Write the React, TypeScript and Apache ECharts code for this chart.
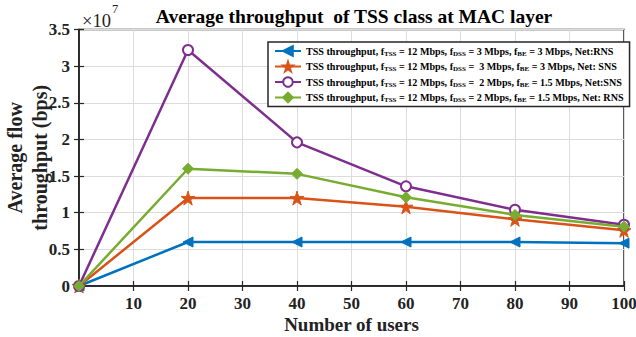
import React, { useEffect, useRef } from "react";
import * as echarts from "echarts";

const users = [0, 20, 40, 60, 80, 100];
const seriesRNS3 = [0, 0.6e7, 0.6e7, 0.6e7, 0.6e7, 0.585e7];
const seriesSNS3 = [0, 1.2e7, 1.2e7, 1.08e7, 0.91e7, 0.76e7];
const seriesSNS2 = [0, 3.22e7, 1.96e7, 1.36e7, 1.04e7, 0.835e7];
const seriesRNS2 = [0, 1.6e7, 1.53e7, 1.21e7, 0.97e7, 0.81e7];

const seriesNames = [
  "TSS throughput, fTSS = 12 Mbps, fDSS = 3 Mbps, fBE = 3 Mbps, Net:RNS",
  "TSS throughput, fTSS = 12 Mbps, fDSS =  3 Mbps, fBE = 3 Mbps, Net: SNS",
  "TSS throughput, fTSS = 12 Mbps, fDSS =  2 Mbps, fBE = 1.5 Mbps, Net:SNS",
  "TSS throughput, fTSS = 12 Mbps, fDSS = 2 Mbps, fBE = 1.5 Mbps, Net: RNS",
];
const legendRich = [
  "{n|TSS throughput, f}{s|TSS}{n| = 12 Mbps, f}{s|DSS}{n| = 3 Mbps, f}{s|BE}{n| = 3 Mbps, Net:RNS}",
  "{n|TSS throughput, f}{s|TSS}{n| = 12 Mbps, f}{s|DSS}{n| =  3 Mbps, f}{s|BE}{n| = 3 Mbps, Net: SNS}",
  "{n|TSS throughput, f}{s|TSS}{n| = 12 Mbps, f}{s|DSS}{n| =  2 Mbps, f}{s|BE}{n| = 1.5 Mbps, Net:SNS}",
  "{n|TSS throughput, f}{s|TSS}{n| = 12 Mbps, f}{s|DSS}{n| = 2 Mbps, f}{s|BE}{n| = 1.5 Mbps, Net: RNS}",
];
const colors = ["#0072BD", "#D95319", "#7E2F8E", "#77AC30"];
const xTicks = [10, 20, 30, 40, 50, 60, 70, 80, 90, 100];

const STAR = "path://M50,0 L61,35 L98,35 L68,57 L79,91 L50,70 L21,91 L32,57 L2,35 L39,35 Z";
const FONT = "'Liberation Serif', 'Times New Roman', serif";

export default function App() {
  const ref = useRef<HTMLDivElement>(null);
  useEffect(() => {
    const chart = echarts.init(ref.current!, null, { renderer: "svg" });
    const datasets = [seriesRNS3, seriesSNS3, seriesSNS2, seriesRNS2];
    const symbols = ["triangle", STAR, "emptyCircle", "diamond"];
    const sizes = [10, 14, 10, 11];
    const rotates = [90, 0, 0, 0];
    const series: any[] = datasets.map((d, i) => ({
      type: "line",
      name: seriesNames[i],
      data: users.map((u, k) => [u, d[k]]),
      symbol: symbols[i],
      symbolSize: sizes[i],
      symbolRotate: rotates[i],
      showAllSymbol: true,
      lineStyle: { color: colors[i], width: 2.5 },
      itemStyle: { color: colors[i], borderColor: colors[i], borderWidth: i === 2 ? 2 : 1 },
      z: 3 + i,
    }));
    const axisLine = { show: true, lineStyle: { color: "#262626", width: 1.5 } };
    const tick = { show: true, inside: true, length: 5, lineStyle: { color: "#262626", width: 1.2 } };
    chart.setOption({
      animation: false,
      title: {
        text: "Average throughput  of TSS class at MAC layer",
        left: 349,
        textAlign: "center",
        top: 1,
        textStyle: { fontFamily: FONT, fontWeight: "bold", fontSize: 19.5, color: "#000" },
      },
      grid: {
        left: 79,
        right: 12,
        top: 29.5,
        bottom: 51,
        show: true,
        borderColor: "#262626",
        borderWidth: 1.5,
        containLabel: false,
        outerBoundsMode: "none",
      },
      legend: {
        orient: "vertical",
        left: 268,
        top: 42,
        backgroundColor: "#fff",
        borderColor: "#262626",
        borderWidth: 1.5,
        padding: [3, 6, 3, 6],
        itemGap: 3.5,
        itemWidth: 26,
        itemHeight: 12,
        data: seriesNames,
        formatter: (name: string) => legendRich[seriesNames.indexOf(name)],
        textStyle: {
          fontFamily: FONT,
          fontWeight: "bold",
          color: "#000",
          rich: {
            n: { fontFamily: FONT, fontWeight: "bold", fontSize: 10.1, lineHeight: 12, color: "#000" },
            s: { fontFamily: FONT, fontWeight: "bold", fontSize: 7, lineHeight: 8, padding: [5, 0, 0, 0], color: "#000" },
          },
        },
      },
      xAxis: [
        {
          type: "value",
          min: 0,
          max: 100,
          interval: 10,
          name: "Number of users",
          nameLocation: "middle",
          nameGap: 29,
          nameMoveOverlap: false,
          nameTextStyle: { fontFamily: FONT, fontWeight: "bold", fontSize: 19, color: "#222" },
          axisLine,
          axisTick: tick,
          axisLabel: {
            fontFamily: FONT,
            fontWeight: "bold",
            fontSize: 17,
            color: "#222",
            margin: 9,
            formatter: (v: number) => (xTicks.includes(v) ? String(v) : ""),
          },
          splitLine: { show: true, lineStyle: { color: "#dcdcdc", width: 1 } },
        },
        {
          type: "value",
          position: "top",
          min: 0,
          max: 100,
          interval: 10,
          axisLine,
          axisTick: tick,
          axisLabel: { show: false },
          splitLine: { show: false },
        },
      ],
      yAxis: [
        {
          type: "value",
          min: 0,
          max: 3.5e7,
          interval: 0.5e7,
          name: "Average flow\nthroughput (bps)",
          nameLocation: "middle",
          nameGap: 27,
          nameMoveOverlap: false,
          nameTextStyle: { fontFamily: FONT, fontWeight: "bold", fontSize: 20, color: "#222", lineHeight: 25 },
          axisLine,
          axisTick: tick,
          axisLabel: {
            fontFamily: FONT,
            fontWeight: "bold",
            fontSize: 17,
            color: "#222",
            margin: 9,
            formatter: (v: number) => (v === 0 ? "0" : String(+(v / 1e7).toFixed(1))),
          },
          splitLine: { show: true, lineStyle: { color: "#dcdcdc", width: 1 } },
        },
        {
          type: "value",
          position: "right",
          min: 0,
          max: 3.5e7,
          interval: 0.5e7,
          axisLine,
          axisTick: tick,
          axisLabel: { show: false },
          splitLine: { show: false },
        },
      ],
      graphic: [
        {
          type: "text",
          left: 82,
          top: 11,
          style: { text: "×10", fontFamily: FONT, fontSize: 18.5, fill: "#222" },
        },
        {
          type: "text",
          left: 112,
          top: 2,
          style: { text: "7", fontFamily: FONT, fontSize: 12.5, fill: "#222" },
        },
      ],
      series,
    });
    return () => chart.dispose();
  }, []);
  return <div ref={ref} style={{ width: 636, height: 337, position: "absolute", left: 0, top: 0, background: "#fff" }} />;
}
